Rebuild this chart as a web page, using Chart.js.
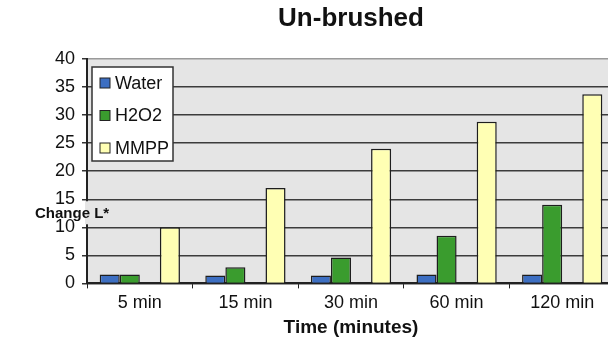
<!DOCTYPE html>
<html>
<head>
<meta charset="utf-8">
<script src="https://cdn.jsdelivr.net/npm/chart.js@4/dist/chart.umd.min.js"></script>
<style>
  html, body { margin: 0; padding: 0; background: #fff; overflow: hidden; }
  #wrap { width: 620px; height: 341px; }
</style>
</head>
<body>
<div id="wrap"><canvas id="chartLstar"></canvas></div>
<script>
// data
const times = ['5 min', '15 min', '30 min', '60 min', '120 min'];
const water = [1.6, 1.4, 1.4, 1.6, 1.6];
const h2o2 = [1.6, 2.9, 4.6, 8.5, 14.0];
const spacer = [null, null, null, null, null]; // empty slot between H2O2 and MMPP
const mmpp = [10.0, 17.0, 24.0, 28.8, 33.7];
const yTicks = [0, 5, 10, 15, 20, 25, 30, 35, 40];

const FONT = "'Liberation Sans', Arial, sans-serif";

// grey plot area
const plotBg = {
    id: 'plotBg',
    beforeDraw(chart) {
        const a = chart.chartArea;
        const c = chart.ctx;
        c.save();
        c.fillStyle = '#e5e5e5';
        c.fillRect(a.left, a.top, a.right - a.left, a.bottom - a.top);
        c.restore();
    }
};

// title centred on the plot, y title between the 15 and 10 labels, boxed legend
const overlays = {
    id: 'overlays',
    afterDraw(chart) {
        const c = chart.ctx;
        const a = chart.chartArea;
        const y = chart.scales.y;
        c.save();
        c.fillStyle = '#111';
        c.font = 'bold 26px ' + FONT;
        c.textAlign = 'center';
        c.textBaseline = 'middle';
        c.fillText('Un-brushed', (a.left + a.right) / 2, 19);

        const y15 = y.getPixelForValue(15), y10 = y.getPixelForValue(10);
        const yMid = (y15 + y10) / 2;
        // the label breaks the axis line
        c.fillStyle = '#e5e5e5';
        c.fillRect(a.left - 2, y15 + 2, 32, y10 - y15 - 5);
        c.fillStyle = '#111';
        c.font = 'bold 15px ' + FONT;
        c.textAlign = 'left';
        c.fillText('Change L*', 35, yMid + 1);

        // legend
        const items = chart.data.datasets.filter(d => d.label);
        const bx = 92, by = 67, bw = 81, bh = 94;
        c.fillStyle = '#fff';
        c.fillRect(bx, by, bw, bh);
        c.strokeStyle = '#333';
        c.lineWidth = 1.5;
        c.strokeRect(bx, by, bw, bh);
        c.font = '18px ' + FONT;
        items.forEach((d, i) => {
            const cy = by + 16 + i * 32.5;
            c.fillStyle = d.backgroundColor;
            c.fillRect(100, cy - 5, 10, 10);
            c.strokeStyle = '#222';
            c.lineWidth = 1;
            c.strokeRect(100, cy - 5, 10, 10);
            c.fillStyle = '#111';
            c.fillText(d.label, 115, cy + 1);
        });
        c.restore();
    }
};

const barStyle = { borderColor: '#1e1e1e', borderWidth: 1.5, borderSkipped: 'bottom' };

const ctx = document.getElementById('chartLstar').getContext('2d');
const chartLstar = new Chart(ctx, {
    type: 'bar',
    data: {
        labels: times,
        datasets: [
            { label: 'Water', data: water, backgroundColor: '#3d6fc2', ...barStyle },
            { label: 'H2O2', data: h2o2, backgroundColor: '#3a9c2e', ...barStyle },
            { label: '', data: spacer, backgroundColor: 'rgba(0,0,0,0)', borderWidth: 0 },
            { label: 'MMPP', data: mmpp, backgroundColor: '#ffffb4', ...barStyle }
        ]
    },
    options: {
        responsive: true,
        maintainAspectRatio: false,
        animation: false,
        datasets: { bar: { categoryPercentage: 0.76, barPercentage: 1 } },
        layout: { padding: { left: 48, right: 5, top: 59, bottom: 0 } },
        plugins: {
            legend: { display: false },
            tooltip: { enabled: false },
            title: { display: false }
        },
        scales: {
            x: {
                grid: { drawOnChartArea: false, drawTicks: true, tickLength: 5, tickColor: '#222', offset: true },
                border: { display: true, color: '#222', width: 2 },
                ticks: { color: '#111', padding: 4, font: { family: FONT, size: 18 } },
                title: {
                    display: true,
                    text: 'Time (minutes)',
                    color: '#111',
                    font: { family: FONT, size: 19, weight: 'bold', lineHeight: 1 },
                    padding: { top: 0, bottom: 4 }
                }
            },
            y: {
                min: 0,
                max: 40,
                afterBuildTicks: axis => { axis.ticks = yTicks.map(v => ({ value: v })); },
                grid: {
                    color: c => (c.tick && c.tick.value === 40 ? '#9a9a9a' : '#3c3c3c'),
                    lineWidth: 1.5,
                    tickColor: '#333',
                    tickLength: 5
                },
                border: { display: true, color: '#222', width: 2 },
                ticks: { color: '#111', padding: 7, font: { family: FONT, size: 18 } }
            }
        }
    },
    plugins: [plotBg, overlays]
});
</script>
</body>
</html>
